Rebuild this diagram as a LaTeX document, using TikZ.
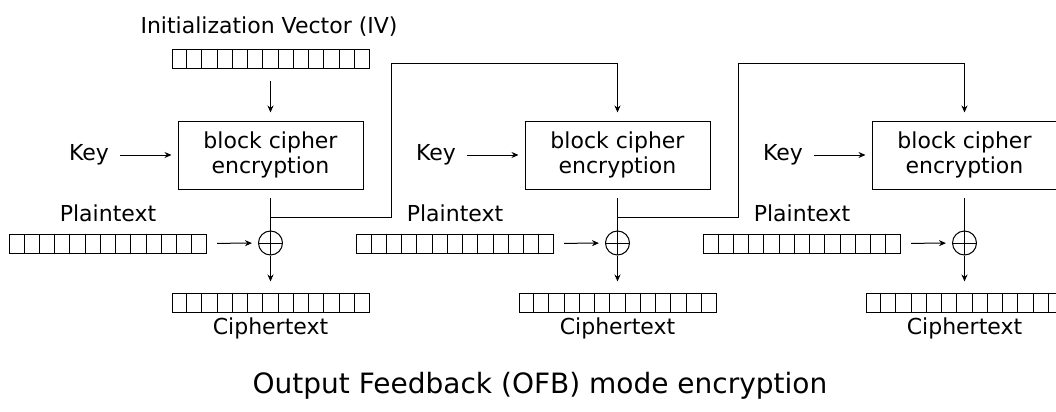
\documentclass[tikz,border=0pt]{standalone}
\usepackage{fontspec}
\setmainfont{DejaVu Sans}
\usetikzlibrary{calc,arrows.meta}
\newcommand{\regcells}[1]{%
  \foreach \i in {1,...,12}{\path[draw]($(#1.north west)!\i/13!(#1.north east)$)to($(#1.south west)!\i/13!(#1.south east)$);}}

\begin{document}
\begin{tikzpicture}[x=0.5pt, y=-0.5pt, line width=0.5pt, >={Stealth[length=3.5pt,width=3pt]},
    every node/.style={font=\fontsize{11}{12.5}\selectfont},
    register/.style={draw, minimum width=98.5pt, minimum height=9.5pt, inner sep=0pt},
    cipherbox/.style={draw, minimum width=92.5pt, minimum height=34pt, align=center, inner sep=0pt},
    xorsign/.style={draw, circle, minimum size=12pt, inner sep=0pt,
      path picture={\path[draw](path picture bounding box.north)to(path picture bounding box.south)
        (path picture bounding box.west)to(path picture bounding box.east);}}]
    % frame
    \clip(0,0)rectangle(1056,412);
    % initialization vector
    \node (ivtext) at (269,27) {Initialization Vector (IV)};
    \node[register] (iv) at (270.5,59) {};
    \regcells{iv}
    % stages
    \foreach \n/\dx in {1/0, 2/347, 3/694}{
      \node[cipherbox] (box\n) at (270.5+\dx,155) {block cipher\\encryption};
      \node (key\n) at (89+\dx,155) {Key};
      \path[draw, ->, shorten <=2pt, shorten >=3pt](key\n)to(box\n);
      % plaintext
      \node (pttext\n) at (108+\dx,213) {Plaintext};
      \node[register] (pt\n) at (108+\dx,244) {};
      \regcells{pt\n}
      % xor
      \node[xorsign] (xor\n) at (270.5+\dx,243) {};
      \path[draw, ->, shorten <=5pt, shorten >=3pt](pt\n)to(xor\n);
      \path[draw, shorten <=4pt](box\n)to(xor\n);
      \coordinate (fb\n) at (270.5+\dx,217);
      % ciphertext
      \node[register] (ct\n) at (270.5+\dx,302.5) {};
      \regcells{ct\n}
      \node (cttext\n) at (270.5+\dx,328) {Ciphertext};
      \path[draw, ->, shorten >=5.5pt](xor\n)to(ct\n);
    }
    \path[draw, ->, shorten <=6pt, shorten >=4pt](iv)to(box1);
    % feedback
    \coordinate (up1) at (391,63);
    \coordinate (up2) at (738,63);
    \path[draw, ->, shorten >=4pt](fb1)-|(up1)-|(box2.north);
    \path[draw, ->, shorten >=4pt](fb2)-|(up2)-|(box3.north);
    % title
    \node[font=\fontsize{14}{16}\selectfont] (title) at (540,386) {Output Feedback (OFB) mode encryption};
\end{tikzpicture}
\end{document}
